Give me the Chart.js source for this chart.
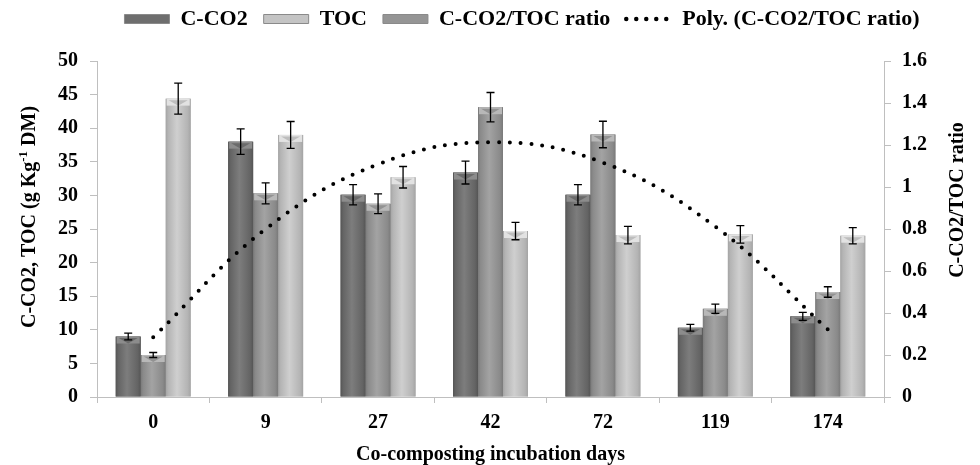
<!DOCTYPE html>
<html><head><meta charset="utf-8">
<script src="https://cdn.jsdelivr.net/npm/chart.js@4.4.1/dist/chart.umd.min.js"></script>
<style>html,body{margin:0;padding:0;background:#fff}canvas{display:block}</style>
</head><body>
<canvas id="c" width="980" height="465"></canvas>
<script>
// ---- data ----
const days = ['0', '9', '27', '42', '72', '119', '174'];
const cco2 = [9.0, 38.0, 30.1, 33.4, 30.1, 10.3, 12.0];
const toc = [44.4, 39.0, 32.7, 24.7, 24.1, 24.2, 24.0];
const ratio = [0.20, 0.97, 0.92, 1.38, 1.25, 0.42, 0.50];
const errCco2 = [0.5, 1.9, 1.5, 1.7, 1.5, 0.5, 0.6];
const errToc = [2.3, 2.0, 1.6, 1.3, 1.3, 1.3, 1.2];
const errRatio = [0.012, 0.05, 0.047, 0.07, 0.063, 0.022, 0.025];
// polynomial trend line (C-CO2/TOC ratio) read at each day
const polyVal = [0.284, 0.80, 1.108, 1.213, 1.116, 0.811, 0.322];
const leftTicks = ['0', '5', '10', '15', '20', '25', '30', '35', '40', '45', '50'];
const rightTicks = ['0', '0.2', '0.4', '0.6', '0.8', '1', '1.2', '1.4', '1.6'];
const seriesNames = ['C-CO2', 'TOC', 'C-CO2/TOC ratio', 'Poly. (C-CO2/TOC ratio)'];
const xTitle = 'Co-composting incubation days';
const yTitle = ['C-CO2, TOC (g Kg', '-1', ' DM)'];
const y1Title = 'C-CO2/TOC ratio';

const FONT = "'Liberation Serif','Times New Roman',serif";
const shades = {
  dark:  {edge: '#555555', dk: '#646464', lt: '#7d7d7d', band: '#8c8c8c', tri: '#6a6a6a'},
  mid:   {edge: '#7a7a7a', dk: '#8a8a8a', lt: '#a3a3a3', band: '#b8b8b8', tri: '#929292'},
  light: {edge: '#a4a4a4', dk: '#b4b4b4', lt: '#cfcfcf', band: '#e2e2e2', tri: '#bdbdbd'}
};

const barLook = {
  id: 'barLook',
  afterDatasetDraw(chart, args) {
    const meta = args.meta;
    const ds = chart.data.datasets[args.index];
    if (meta.type !== 'bar') return;
    const ctx = chart.ctx;
    const s = shades[ds.shade];
    const yScale = chart.scales[meta.yAxisID];
    ctx.save();
    meta.data.forEach((el, i) => {
      const p = el.getProps(['x', 'y', 'base', 'width'], true);
      const x0 = p.x - p.width / 2, x1 = p.x + p.width / 2;
      const top = Math.min(p.y, p.base), bot = Math.max(p.y, p.base);
      const g = ctx.createLinearGradient(x0, 0, x1, 0);
      g.addColorStop(0, s.edge); g.addColorStop(0.1, s.dk); g.addColorStop(0.45, s.lt);
      g.addColorStop(0.88, s.dk); g.addColorStop(1, s.edge);
      ctx.fillStyle = g;
      ctx.fillRect(x0, top, p.width, bot - top);
      const h = Math.min(7, (bot - top) / 2);
      ctx.fillStyle = s.band;
      ctx.fillRect(x0 + 1, top, p.width - 2, h);
      ctx.beginPath();
      ctx.moveTo(x0 + 3, top + 1.5); ctx.lineTo(x1 - 3, top + 1.5); ctx.lineTo(p.x, top + h);
      ctx.closePath();
      ctx.fillStyle = s.tri; ctx.fill();
      // error bar
      const v = ds.data[i], e = ds.err[i];
      const yt = yScale.getPixelForValue(v + e), yb = yScale.getPixelForValue(v - e);
      ctx.strokeStyle = '#000'; ctx.lineWidth = 1.3;
      ctx.beginPath();
      ctx.moveTo(p.x, yt); ctx.lineTo(p.x, yb);
      ctx.moveTo(p.x - 4, yt); ctx.lineTo(p.x + 4, yt);
      ctx.moveTo(p.x - 4, yb); ctx.lineTo(p.x + 4, yb);
      ctx.stroke();
    });
    ctx.restore();
  }
};

const titles = {
  id: 'titles',
  afterLayout(chart) {
    const lg = chart.legend;
    if (!lg || !lg.lineWidths) return;
    const pad = lg.options.labels.padding;
    const start = (lg.left + pad + lg.right - lg.lineWidths[0]) / 2;
    const center = start + (lg.lineWidths[0] - pad) / 2;
    const dx = 522 - center;
    lg.left += dx; lg.right += dx;
  },
  afterDraw(chart) {
    const ctx = chart.ctx;
    const ca = chart.chartArea;
    ctx.save();
    ctx.fillStyle = '#000';
    ctx.textBaseline = 'middle';
    // left title with superscript
    const big = 'bold 20px ' + FONT, small = 'bold 13px ' + FONT;
    ctx.font = big; const w0 = ctx.measureText(yTitle[0]).width, w2 = ctx.measureText(yTitle[2]).width;
    ctx.font = small; const w1 = ctx.measureText(yTitle[1]).width;
    const tot = w0 + w1 + w2;
    ctx.translate(chart.scales.y.left + 30, (ca.top + ca.bottom) / 2 - 12);
    ctx.rotate(-Math.PI / 2);
    ctx.textAlign = 'left';
    let x = -tot / 2;
    ctx.font = big; ctx.fillText(yTitle[0], x, 0); x += w0;
    ctx.font = small; ctx.fillText(yTitle[1], x, -6); x += w1;
    ctx.font = big; ctx.fillText(yTitle[2], x, 0);
    ctx.restore();
    // right title, reading bottom to top
    ctx.save();
    ctx.fillStyle = '#000';
    ctx.textBaseline = 'middle'; ctx.textAlign = 'center';
    ctx.font = 'bold 20px ' + FONT;
    ctx.translate(chart.scales.y1.right - 22, (ca.top + ca.bottom) / 2 - 29);
    ctx.rotate(-Math.PI / 2);
    ctx.fillText(y1Title, 0, 0);
    ctx.restore();
  }
};

const tickFont = {family: FONT, size: 20, weight: 'bold'};
const axisGrey = '#bfbfbf';

new Chart(document.getElementById('c'), {
  type: 'bar',
  data: {
    labels: days,
    datasets: [
      {type: 'bar', label: seriesNames[0], data: cco2, err: errCco2, shade: 'dark', yAxisID: 'y', backgroundColor: '#6e6e6e', order: 1},
      {type: 'bar', label: seriesNames[2], data: ratio, err: errRatio, shade: 'mid', yAxisID: 'y1', backgroundColor: '#959595', order: 1},
      {type: 'bar', label: seriesNames[1], data: toc, err: errToc, shade: 'light', yAxisID: 'y', backgroundColor: '#c4c4c4', order: 1},
      {type: 'line', label: seriesNames[3], data: polyVal,
       yAxisID: 'y1', borderColor: '#000', borderWidth: 4, borderDash: [0, 10.8],
       borderCapStyle: 'round', pointRadius: 0, tension: 0.4, fill: false, order: 0}
    ]
  },
  options: {
    responsive: false, animation: false, devicePixelRatio: 1,
    layout: {padding: {top: -8, left: 0, right: 0, bottom: 0}},
    datasets: {bar: {categoryPercentage: 0.667, barPercentage: 1.0}},
    plugins: {
      tooltip: {enabled: false},
      legend: {
        position: 'top',
        labels: {
          usePointStyle: true, pointStyleWidth: 45, boxHeight: 9, padding: 16,
          color: '#000', font: {family: FONT, size: 22, weight: 'bold'},
          generateLabels(chart) {
            return [0, 2, 1, 3].map(i => {
              const ds = chart.data.datasets[i];
              const line = ds.type === 'line';
              return {
                text: ds.label, datasetIndex: i, hidden: false, fontColor: '#000',
                fillStyle: line ? 'rgba(0,0,0,0)' : ds.backgroundColor,
                strokeStyle: line ? '#000' : '#8a8a8a',
                lineWidth: line ? 4.5 : 1,
                lineDash: line ? [0, 10] : [],
                lineCap: line ? 'round' : 'butt',
                pointStyle: line ? 'line' : 'rect'
              };
            });
          }
        }
      }
    },
    scales: {
      x: {
        type: 'category', position: 'bottom', offset: true,
        grid: {display: true, drawOnChartArea: false, drawTicks: true, tickLength: 6, color: axisGrey, offset: true},
        border: {display: true, color: axisGrey},
        ticks: {color: '#000', font: tickFont, padding: 8, maxRotation: 0},
        title: {display: true, text: xTitle, color: '#000', font: {family: FONT, size: 20, weight: 'bold', lineHeight: 1}, padding: {top: 0, bottom: 0}},
        afterFit(s) { s.height = 68; }
      },
      gap: {
        type: 'linear', axis: 'x', position: 'top', min: 0, max: 1, display: true,
        grid: {display: false, drawTicks: false}, border: {display: false}, ticks: {display: false},
        afterFit(s) { s.height = 21; }
      },
      y: {
        type: 'linear', position: 'left', min: 0, max: 50,
        ticks: {stepSize: 5, color: '#000', font: tickFont, padding: 12, callback: (v, i) => leftTicks[i]},
        grid: {drawOnChartArea: false, tickLength: 7, color: axisGrey},
        border: {color: axisGrey},
        afterFit(s) { s.width = 97; }
      },
      y1: {
        type: 'linear', position: 'right', min: 0, max: 1.6,
        ticks: {stepSize: 0.2, color: '#000', font: tickFont, padding: 11, callback: (v, i) => rightTicks[i]},
        grid: {drawOnChartArea: false, tickLength: 7, color: axisGrey},
        border: {color: axisGrey},
        afterFit(s) { s.width = 96; }
      }
    }
  },
  plugins: [barLook, titles]
});
</script>
</body></html>
